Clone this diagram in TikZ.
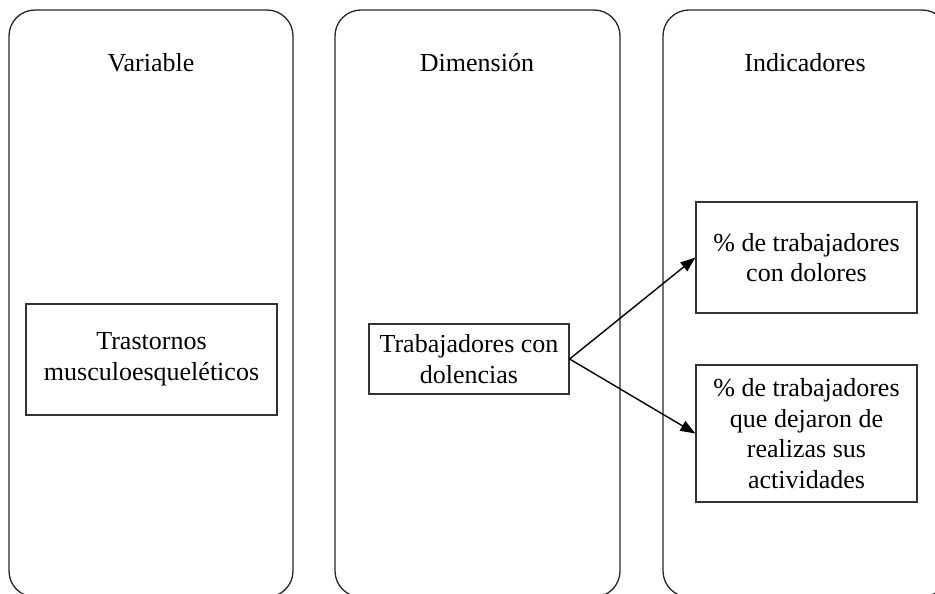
\documentclass[tikz,border=0pt]{standalone}
\usepackage{fontspec}
\setmainfont{Liberation Serif}
\usetikzlibrary{arrows.meta}
\begin{document}
\begin{tikzpicture}[x=1pt,y=-1pt,
  panel/.style={draw=black!85,line width=1.3pt,rounded corners=26pt},
  head/.style={anchor=base,inner sep=0pt,font=\fontsize{26}{30}\selectfont},
  box/.style={draw=black!80,line width=1.2pt,inner sep=0pt,align=center,font=\fontsize{26}{30.5}\selectfont},
  arr/.style={line width=1.4pt,-{Triangle[length=15pt,width=11pt]}}]
\useasboundingbox (0,0) rectangle (935,594);
\begin{scope}
\clip (0,0) rectangle (935,594);
\draw[panel] (9,10) rectangle (293,597);
\draw[panel] (335,10) rectangle (620,597);
\draw[panel] (663,10) rectangle (948,597);
\end{scope}
\node[head] (h1) at (151,71) {Variable};
\node[head] (h2) at (477,71) {Dimensión};
\node[head] (h3) at (805,71) {Indicadores};
\node[box,minimum width=251pt,minimum height=111pt] (var) at (151.5,359.5) {Trastornos\\musculoesqueléticos};
\node[box,minimum width=200pt,minimum height=70pt] (dim) at (469,359) {Trabajadores con\\dolencias};
\node[box,minimum width=221pt,minimum height=111pt] (ind1) at (806.5,257.5) {\% de trabajadores\\con dolores};
\node[box,minimum width=221pt,minimum height=137pt] (ind2) at (806.5,433.5) {\% de trabajadores\\que dejaron de\\realizas sus\\actividades};
\draw[arr] (dim.east) -- (ind1.west);
\draw[arr] (dim.east) -- (ind2.west);
\end{tikzpicture}
\end{document}
